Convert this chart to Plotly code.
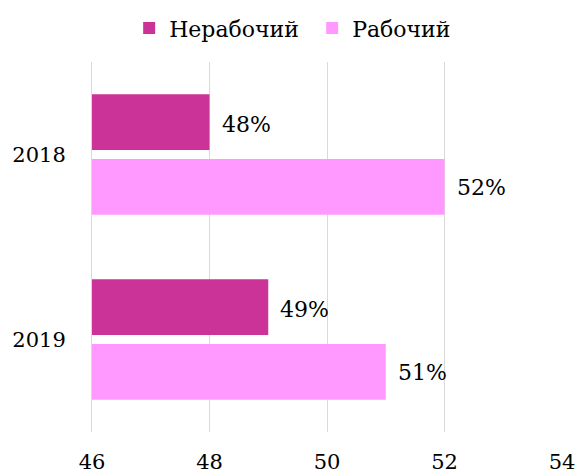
import plotly.graph_objects as go

years = ["2018", "2019"]
nonworking = [48, 49]
working = [52, 51]
series_names = ["Нерабочий", "Рабочий"]
colors = ["#CC3399", "#FF99FF"]
x_ticks = [46, 48, 50, 52, 54]
x_min, x_max = 46, 54

FONT = "DejaVu Serif"

fig = go.Figure()
for i, (name, vals, col) in enumerate(zip(series_names, [nonworking, working], colors)):
    fig.add_trace(go.Bar(
        y=years, x=[v - x_min for v in vals], base=x_min, name=name, orientation="h",
        marker=dict(color=col, line=dict(width=0)),
        hoverinfo="skip",
    ))

# data labels placed right after each bar end (y given as category index)
annotations = []
for i, vals in enumerate([nonworking, working]):
    for k, v in enumerate(vals):
        annotations.append(dict(
            x=v, y=k, xref="x", yref="y", text=f"{v}%", showarrow=False,
            xanchor="left", xshift=10, yshift=(30 if i == 0 else -33),
            font=dict(family=FONT, size=22, color="#000000"),
        ))

fig.update_layout(
    width=577, height=475,
    margin=dict(l=92, r=15, t=62, b=43),
    barmode="group", bargap=0.30, bargroupgap=0.14,
    plot_bgcolor="white", paper_bgcolor="white",
    font=dict(family=FONT, size=22, color="#000000"),
    legend=dict(orientation="h", x=0.541, xanchor="center", xref="container",
                y=0.985, yanchor="top", yref="container",
                font=dict(family=FONT, size=22), traceorder="normal",
                entrywidth=138),
    annotations=annotations,
    xaxis=dict(range=[x_min, x_max], tickvals=x_ticks, showgrid=True, gridcolor="#D9D9D9",
               gridwidth=1, zeroline=False, showline=False, ticks="", automargin=False,
               ticklabelstandoff=15, tickfont=dict(family=FONT, size=21)),
    yaxis=dict(type="category", categoryorder="array", categoryarray=years,
               range=[1.5, -0.5],
               showgrid=False, zeroline=False, showline=True, linecolor="#D9D9D9", linewidth=1,
               ticks="", automargin=False,
               ticklabelstandoff=21, tickfont=dict(family=FONT, size=21)),
)
fig.write_html("out.html", post_script="document.body.style.margin='0';",
               config={"displayModeBar": False})
